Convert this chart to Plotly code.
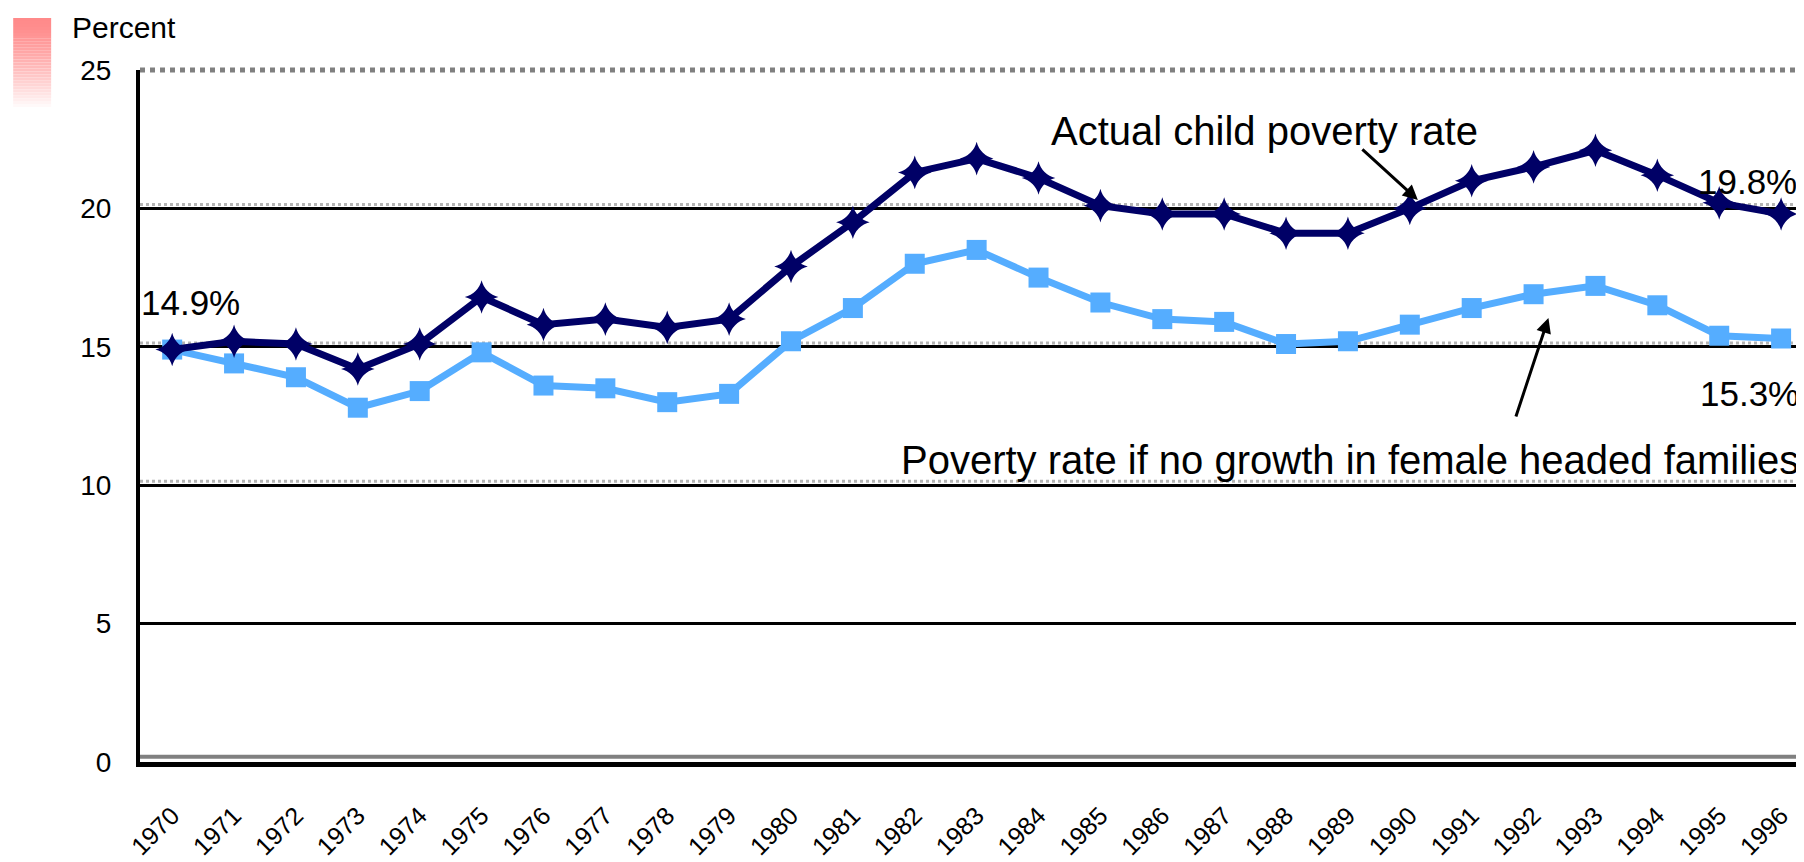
"""
Child poverty rate, actual vs. no growth in female headed families.
"""

import plotly.graph_objects as go

years = list(range(1970, 1997))

actual_rate = [14.9, 15.2, 15.1, 14.2, 15.1, 16.8, 15.8, 16.0, 15.7, 16.0,
               17.9, 19.5, 21.3, 21.8, 21.1, 20.1, 19.8, 19.8, 19.1, 19.1,
               20.0, 21.0, 21.5, 22.1, 21.2, 20.2, 19.8]

no_growth_rate = [14.9, 14.4, 13.9, 12.8, 13.4, 14.8, 13.6, 13.5, 13.0, 13.3,
                  15.2, 16.4, 18.0, 18.5, 17.5, 16.6, 16.0, 15.9, 15.1, 15.2,
                  15.8, 16.4, 16.9, 17.2, 16.5, 15.4, 15.3]

y_ticks = [0, 5, 10, 15, 20, 25]
shadow_levels = [10, 15, 20]

FONT = "Liberation Sans, Arial, sans-serif"
DARK = "#000066"
LIGHT = "#55adff"

fig = go.Figure()

# grey dotted shadow above the gridlines
for lvl in shadow_levels:
    fig.add_shape(type="line", xref="paper", yref="y", layer="below",
                  x0=0, x1=1, y0=lvl + 0.14, y1=lvl + 0.14,
                  line=dict(color="#b4b4b4", width=3, dash="dot"))

fig.add_trace(go.Scatter(
    x=years, y=no_growth_rate,
    mode="lines+markers",
    line=dict(color=LIGHT, width=7),
    marker=dict(symbol="square", size=20, color=LIGHT),
    name="Poverty rate if no growth in female headed families",
))

fig.add_trace(go.Scatter(
    x=years, y=actual_rate,
    mode="lines+markers",
    line=dict(color=DARK, width=7),
    marker=dict(symbol="star-diamond", size=24, color=DARK),
    name="Actual child poverty rate",
))

# grey dotted top border and grey band on top of the x axis
fig.add_shape(type="line", xref="paper", yref="paper", x0=0, x1=1, y0=1, y1=1,
              line=dict(color="#808080", width=5, dash="dot"))
fig.add_shape(type="line", xref="paper", yref="paper", x0=0, x1=1,
              y0=0.0075, y1=0.0075, line=dict(color="#808080", width=4))

# faded red block in the top-left corner
n_strips = 30
for i in range(n_strips):
    t = i / n_strips
    g = int(138 + (255 - 138) * t ** 1.4)
    fig.add_shape(type="rect", xref="paper", yref="paper", layer="below",
                  x0=-0.0762, x1=-0.0534,
                  y0=1.075 - (i + 1) * 0.1285 / n_strips,
                  y1=1.075 - i * 0.1285 / n_strips,
                  line=dict(width=0), fillcolor=f"rgb(255,{g},{g})")

annotations = [
    dict(text="Percent", xref="paper", yref="paper", x=-0.0095, y=1.062,
         xanchor="center", yanchor="middle", showarrow=False,
         font=dict(size=30, color="black")),
    dict(text="14.9%", x=1970.3, y=16.6, showarrow=False,
         font=dict(size=35)),
    dict(text="19.8%", xref="paper", x=0.997, y=20.2, xanchor="right",
         yanchor="bottom", showarrow=False, font=dict(size=35)),
    dict(text="15.3%", xref="paper", x=0.998, y=13.3, xanchor="right",
         showarrow=False, font=dict(size=35)),
    dict(text="Actual child poverty rate", x=1987.65, y=22.8, showarrow=False,
         font=dict(size=40)),
    dict(text="", x=1990.13, y=20.3, ax=-57, ay=-52, showarrow=True,
         arrowhead=2, arrowsize=1.0, arrowwidth=3, arrowcolor="black"),
    dict(text="Poverty rate if no growth in female headed families",
         xref="paper", x=0.998, y=10.9, xanchor="right", showarrow=False,
         font=dict(size=40)),
    dict(text="", x=1992.24, y=16.04, ax=-33, ay=100, showarrow=True,
         arrowhead=2, arrowsize=1.0, arrowwidth=3, arrowcolor="black"),
]

fig.update_layout(
    width=1796, height=854,
    margin=dict(l=132, r=0, t=62, b=100),
    paper_bgcolor="white",
    plot_bgcolor="white",
    showlegend=False,
    font=dict(family=FONT, color="black"),
    annotations=annotations,
    xaxis=dict(
        range=[1969.48, 1996.37],
        tickmode="array", tickvals=years, ticktext=[str(y) for y in years],
        tickangle=-45, tickfont=dict(size=25),
        showgrid=False, zeroline=False,
        showline=True, linecolor="black", linewidth=5,
        ticks="", ticklabelstandoff=24,
    ),
    yaxis=dict(
        range=[0, 25],
        tickmode="array", tickvals=y_ticks,
        tickfont=dict(size=28),
        showgrid=True, gridcolor="black", gridwidth=3,
        zeroline=False,
        showline=True, linecolor="black", linewidth=4,
        ticks="", ticklabelstandoff=19,
    ),
)

fig.write_html("out.html")
